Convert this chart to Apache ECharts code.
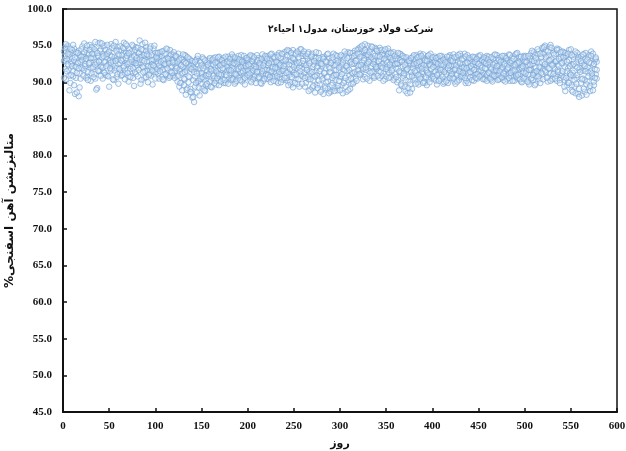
<!DOCTYPE html>
<html>
<head>
<meta charset="utf-8">
<script src="https://cdn.jsdelivr.net/npm/echarts@6/dist/echarts.min.js"></script>
<style>
html,body{margin:0;padding:0;background:#fff;}
#chart{width:626px;height:451px;}
</style>
</head>
<body>
<div id="chart"></div>
<script>
// متالیزیشن روزانه - سه نمونه در روز
var titleText = 'شرکت فولاد خوزستان، مدول۱ احیاء۲';
var xName = 'روز';
var yName = 'متالیزیشن آهن اسفنجی%\u200F';

var shiftA = [
94.2,93.1,91.8,94.8,92.5,93.6,90.9,94.1,92.8,93.3,91.5,94.6,92.2,90.6,93.9,92.7,94.3,91.2,93.5,92.0,
94.9,93.2,91.7,92.9,94.4,90.8,93.7,92.4,95.1,91.9,93.4,94.7,92.1,93.8,90.5,94.2,92.6,95.3,93.0,91.6,
94.5,92.3,93.9,91.4,95.0,92.8,93.5,90.9,94.1,92.6,93.7,95.2,91.8,93.1,94.6,92.0,93.3,90.7,94.8,92.5,
93.6,91.3,94.3,92.9,93.2,95.4,91.7,94.0,92.4,93.8,90.8,94.5,92.2,93.4,91.5,94.9,92.7,93.0,91.1,94.2,
92.6,93.9,95.7,91.9,93.5,92.1,94.4,90.6,93.2,94.8,91.6,93.7,92.3,94.1,90.9,93.0,92.5,94.6,91.4,93.3,
92.8,94.0,91.2,93.5,92.1,93.9,90.7,92.6,94.3,91.8,93.1,92.4,94.5,90.9,92.9,93.6,91.5,92.2,93.8,91.0,
92.7,93.4,90.8,92.0,93.9,91.6,92.5,89.9,93.1,91.3,92.8,90.4,93.6,91.9,89.2,92.4,90.7,93.0,88.6,91.7,
90.3,92.6,89.4,91.8,93.2,90.1,91.5,92.9,89.8,91.1,93.4,90.6,92.2,91.0,89.6,92.7,90.9,93.1,91.4,90.2,
92.5,91.2,93.3,90.5,92.0,89.7,92.8,91.6,93.5,90.8,92.3,91.0,93.0,89.9,92.6,91.4,93.2,90.3,91.9,92.7,
91.1,93.4,90.6,92.4,91.8,93.1,90.0,92.9,91.5,93.6,90.9,92.2,91.3,93.0,90.4,92.6,91.7,93.3,90.8,92.1,
91.6,93.5,90.2,92.8,91.0,93.2,90.7,92.4,91.9,93.7,90.5,92.1,91.4,93.0,89.8,92.7,91.2,93.4,90.9,92.3,
91.7,93.6,90.4,92.9,91.3,93.9,90.8,92.5,91.1,93.3,90.1,92.7,91.8,94.0,90.6,92.2,91.5,93.8,90.3,92.9,
91.6,94.2,90.2,92.8,91.0,93.5,89.7,92.4,94.4,91.3,93.1,90.5,92.6,91.9,93.9,89.4,92.3,91.1,93.6,90.8,
92.5,93.8,89.9,91.7,93.2,90.4,92.9,91.2,93.7,89.3,92.1,90.8,93.4,91.5,89.6,92.7,90.2,93.0,91.8,88.9,
92.2,90.6,93.5,89.5,91.9,92.8,90.1,93.3,88.8,91.4,92.6,89.9,93.9,91.0,90.3,92.4,89.2,93.1,91.6,90.7,
92.9,89.6,91.8,93.6,90.2,92.3,88.7,91.5,94.1,90.9,92.7,89.8,93.4,91.2,92.5,94.3,90.5,93.0,91.7,94.6,
92.4,94.8,91.3,93.5,92.0,94.2,90.7,93.8,92.6,95.0,91.5,93.2,94.5,92.2,90.9,93.9,92.8,94.7,91.8,93.4,
92.1,94.4,90.6,93.1,92.5,94.0,91.2,93.7,92.3,90.8,93.5,91.7,94.2,92.0,93.3,91.0,93.9,92.6,90.5,93.2,
91.9,93.6,90.3,92.7,91.4,93.8,89.5,92.2,90.9,93.4,88.8,91.6,92.9,90.1,93.1,89.7,92.4,91.0,93.5,90.6,
92.8,91.3,93.7,90.0,92.3,91.8,93.9,90.7,92.6,91.1,93.3,89.9,92.0,91.5,93.6,90.4,92.5,91.2,93.0,90.8,
92.7,91.4,93.5,90.2,92.1,91.7,93.2,90.6,92.9,91.0,93.4,89.8,92.4,91.6,93.1,90.3,92.6,91.3,93.7,90.9,
92.2,91.5,93.8,90.1,92.7,91.2,93.3,90.5,92.0,91.8,93.6,90.7,92.5,91.1,93.9,89.9,92.3,91.6,93.2,90.4,
92.8,91.3,93.4,90.8,92.1,91.7,93.0,90.6,92.6,91.4,93.5,90.9,92.3,91.0,93.2,90.5,92.9,91.8,93.6,90.7,
92.4,91.2,93.1,90.3,92.7,91.6,93.7,90.8,92.0,91.5,93.3,90.4,92.5,91.9,93.0,90.6,92.8,91.1,93.4,90.9,
92.3,91.7,93.8,90.2,92.6,91.4,93.5,90.7,92.1,91.0,93.9,90.5,92.9,91.8,93.2,90.1,92.4,91.3,93.6,90.8,
92.7,91.5,93.3,90.0,92.2,91.9,94.0,90.6,92.5,91.2,93.7,89.8,92.8,91.6,94.2,90.4,92.0,93.5,91.1,94.6,
92.3,95.0,91.4,93.6,90.7,92.9,94.8,91.2,93.1,90.5,92.6,94.3,91.8,93.9,90.2,92.4,94.5,91.0,93.3,90.9,
92.7,94.1,90.3,92.0,93.7,89.6,91.9,94.4,90.8,92.5,88.9,91.3,93.5,89.4,92.2,90.6,94.0,88.4,91.7,93.2,
89.9,92.6,90.5,93.8,88.7,91.8,92.9,90.1,93.4,89.3,91.5,94.2,90.7,92.3,89.6,93.0,91.1,92.8
];

var shiftB = [
92.9,94.7,90.4,93.2,95.0,91.7,93.8,89.9,92.5,94.4,90.8,93.0,88.4,94.1,91.3,92.6,88.1,93.7,90.5,94.5,
91.9,93.5,95.3,92.2,90.6,94.0,91.4,93.9,92.7,90.2,94.8,92.0,93.3,91.1,95.5,92.8,89.2,93.6,91.5,94.3,
92.1,93.4,90.5,94.9,92.7,91.0,93.8,95.1,92.4,89.4,93.0,91.6,94.7,92.9,90.3,93.5,95.5,91.9,93.1,89.8,
94.4,92.6,90.9,93.7,92.0,94.6,91.2,93.3,95.0,92.5,90.1,93.9,91.8,94.2,92.8,90.6,93.5,91.4,94.8,92.3,
90.8,94.1,92.7,93.4,90.3,95.2,92.0,93.7,91.5,94.3,92.8,90.0,93.6,91.2,94.9,92.4,89.7,93.1,92.2,94.0,
91.4,93.2,92.6,90.5,94.1,92.0,93.6,91.7,90.3,93.9,92.5,91.0,93.3,92.8,90.6,94.4,92.1,93.0,90.9,93.7,
91.5,92.2,93.5,90.1,92.9,89.4,91.8,93.3,88.9,92.1,90.5,93.7,88.3,91.6,92.8,90.0,93.2,89.1,92.3,87.9,
92.0,87.3,90.8,93.0,88.6,92.4,90.2,88.2,92.7,91.3,89.1,93.2,90.4,88.8,92.1,91.6,89.5,92.9,90.0,91.8,
89.3,92.9,90.9,91.7,93.4,90.2,91.3,92.6,89.6,93.1,91.0,92.4,90.4,93.3,91.8,89.9,92.2,91.5,93.5,90.6,
92.7,90.3,92.0,93.5,91.2,89.8,92.5,91.0,93.2,90.6,92.8,91.4,93.7,90.1,92.3,91.9,89.7,93.0,91.6,92.9,
93.1,90.8,92.5,91.3,93.6,90.4,92.2,91.8,89.9,92.9,91.5,93.3,90.6,92.4,91.1,93.8,90.2,92.6,91.7,93.4,
90.5,92.3,91.6,93.1,90.0,92.7,91.9,93.5,90.7,92.1,91.3,93.7,89.9,92.6,91.1,93.3,90.4,92.8,91.8,94.1,
92.5,90.6,93.7,91.4,94.3,90.0,92.9,91.7,89.3,93.2,91.0,94.0,92.3,89.8,93.4,92.0,94.5,90.9,92.6,93.9,
91.3,89.4,93.6,92.0,90.7,94.1,91.5,89.0,92.8,93.9,90.3,92.4,88.6,93.3,91.0,92.2,94.0,89.7,92.6,90.9,
93.4,88.4,91.2,92.9,90.0,93.8,89.1,92.1,91.4,88.7,93.0,90.6,92.3,89.3,93.7,91.7,88.9,92.7,90.2,93.5,
90.8,92.4,88.5,93.1,91.6,89.4,93.9,92.0,90.3,93.5,89.1,92.8,91.3,94.0,90.0,92.6,93.7,91.1,94.4,92.2,
93.9,91.0,94.6,92.7,90.4,93.3,95.2,91.7,94.1,92.5,93.7,90.2,92.9,94.9,91.4,93.1,90.6,92.3,94.5,91.9,
93.6,91.5,94.7,92.2,90.9,93.8,92.6,94.3,90.4,93.0,92.1,94.6,91.3,93.4,90.7,92.8,91.9,94.1,92.4,91.1,
93.2,90.0,92.5,88.9,93.9,91.3,92.8,90.6,93.3,89.4,92.0,91.7,88.5,93.0,90.8,92.6,91.4,89.1,92.3,93.7,
90.3,93.1,91.6,92.7,89.7,93.5,90.9,92.2,91.4,93.8,90.1,92.9,91.7,89.6,93.2,91.0,92.4,93.9,90.5,92.6,
90.8,93.0,91.5,92.6,89.7,93.4,91.2,92.0,90.4,93.6,91.8,92.3,90.0,93.1,91.1,92.8,89.9,93.5,91.6,92.2,
93.3,90.6,92.4,91.7,89.8,93.5,91.0,92.8,90.3,93.9,91.4,92.1,90.9,93.2,91.6,92.6,90.2,93.7,91.3,92.0,
90.7,93.1,91.9,92.5,90.2,93.4,91.1,92.7,90.5,93.6,91.6,92.2,90.9,93.0,91.3,92.8,90.4,93.3,91.0,92.4,
93.5,90.6,92.1,91.8,90.1,93.2,91.4,92.6,90.8,93.7,91.0,92.3,90.5,93.4,91.7,92.0,90.3,93.6,91.5,92.9,
90.4,93.0,91.2,92.7,90.9,93.3,91.6,92.4,90.2,93.8,91.1,92.6,90.6,93.5,91.9,92.1,90.0,93.1,91.4,92.8,
93.6,90.5,92.3,91.0,89.7,93.2,91.7,92.9,90.3,94.1,91.4,92.0,90.8,93.8,91.2,92.6,89.9,93.4,94.7,91.8,
93.9,91.6,94.4,92.1,90.1,93.7,91.9,95.1,92.5,90.4,94.0,91.3,92.8,90.9,94.6,91.7,92.2,90.3,93.5,91.2,
94.2,90.7,92.9,88.8,93.6,91.5,90.0,93.0,91.2,94.5,89.6,92.3,90.9,93.8,88.5,92.7,91.0,93.4,89.1,91.9,
93.5,88.2,91.6,92.4,90.3,94.0,89.7,92.0,91.3,93.7,88.8,92.6,90.9,93.9,90.1,91.8,93.2,90.5
];

var shiftC = [
90.6,93.6,95.2,91.5,93.9,92.3,88.9,94.6,91.0,92.2,95.1,89.6,93.4,92.1,88.6,94.0,91.9,89.3,92.8,93.5,
93.0,90.9,94.1,92.5,93.2,95.0,90.3,92.6,94.4,93.3,91.2,93.9,90.7,94.5,92.4,89.0,94.0,91.6,92.8,95.4,
90.9,95.3,92.0,93.6,91.3,94.4,92.2,93.9,90.8,94.2,91.9,92.7,93.5,90.4,95.0,91.6,92.9,94.3,91.1,93.8,
91.8,94.9,93.0,91.0,94.7,92.2,90.4,95.2,93.6,91.3,94.0,92.7,90.7,93.1,95.1,91.9,89.5,94.4,92.6,93.3,
94.7,91.7,93.1,89.8,94.5,93.0,91.4,92.9,95.4,90.7,93.8,92.2,91.0,94.6,92.1,93.7,91.6,92.3,95.0,90.5,
93.5,91.8,94.0,92.3,91.5,92.8,94.2,90.4,93.0,92.5,91.1,94.6,91.9,93.2,92.6,90.8,93.8,91.3,92.7,94.1,
90.6,93.6,91.9,92.7,90.9,93.1,89.9,92.3,91.2,93.8,89.6,91.4,92.6,89.0,93.4,90.8,92.0,88.7,91.8,92.9,
88.0,91.4,92.8,89.9,91.2,93.6,89.3,91.9,90.5,92.3,90.7,91.9,88.9,93.0,90.9,89.8,92.4,91.1,93.3,89.4,
91.6,93.1,92.4,89.9,92.7,91.5,90.6,93.4,91.1,92.3,90.1,93.0,91.9,92.6,90.3,93.5,91.0,92.8,89.8,91.7,
93.2,91.6,93.8,90.4,92.6,93.4,91.1,90.2,92.7,91.8,93.1,90.3,92.0,92.8,91.5,93.6,90.6,92.2,93.3,91.0,
92.4,91.2,93.7,90.0,92.9,91.6,93.4,90.9,92.1,91.4,93.0,90.7,92.6,89.9,93.2,91.5,92.3,90.5,93.6,91.1,
93.2,91.0,92.6,90.7,93.8,91.5,92.1,90.2,93.4,91.9,92.8,90.9,93.5,91.4,92.4,90.0,93.9,91.6,92.2,90.6,
93.0,91.3,94.4,89.6,92.4,91.8,94.0,90.7,93.3,92.1,89.9,93.8,91.1,94.2,90.4,92.7,91.5,94.5,89.8,92.9,
94.2,90.6,92.3,91.7,93.9,88.8,92.6,90.4,93.5,91.4,89.5,92.9,90.8,94.1,92.0,89.2,93.3,91.5,88.7,92.5,
90.4,93.2,91.3,89.2,92.8,90.7,93.9,88.5,91.9,92.6,89.6,93.4,90.9,88.8,92.3,91.0,93.6,89.5,92.0,88.9,
93.7,91.1,92.7,89.9,94.2,90.6,92.2,93.3,88.9,91.7,94.0,90.5,92.5,89.8,93.6,91.4,92.9,90.2,93.9,91.6,
91.1,93.5,92.3,95.0,91.8,93.0,94.4,92.0,90.5,93.7,92.8,94.1,91.3,93.4,94.8,92.5,90.8,93.6,92.1,94.3,
90.9,92.9,93.5,91.4,94.4,92.0,90.2,93.2,94.5,91.8,92.7,93.9,90.6,92.4,94.0,91.6,93.1,90.3,93.6,92.5,
90.7,92.6,94.0,91.5,93.0,89.7,92.8,93.6,91.2,92.4,90.3,93.4,91.8,89.2,92.9,88.6,93.3,90.8,91.9,92.5,
91.5,89.8,92.6,93.4,91.0,92.8,90.5,93.6,91.9,89.9,92.4,93.0,90.7,92.9,91.3,93.7,90.0,92.3,91.8,93.4,
92.1,90.5,92.8,93.3,91.0,92.5,90.2,93.6,91.7,92.4,90.8,93.1,91.4,92.7,90.1,93.5,91.9,92.3,90.6,93.0,
91.1,92.9,90.5,93.4,91.8,92.3,90.1,93.7,91.5,92.6,90.8,93.1,91.3,92.0,90.6,93.5,91.9,92.7,89.9,93.3,
91.4,92.2,90.3,93.5,91.7,92.8,90.6,93.2,91.1,92.5,90.8,93.7,91.6,92.0,90.4,93.4,91.9,92.6,90.2,93.1,
91.3,92.7,90.5,93.4,91.0,92.4,90.9,93.8,91.7,92.2,90.3,93.0,91.5,92.8,90.7,93.6,91.2,92.5,90.1,93.3,
91.8,92.0,90.6,93.7,91.3,92.9,90.2,93.2,91.6,92.4,90.8,94.0,91.0,92.7,90.4,93.5,91.9,92.2,90.5,93.4,
91.2,92.8,90.1,93.6,91.7,92.4,90.5,94.3,91.0,92.9,89.6,93.3,91.5,94.5,90.8,92.1,93.9,91.3,92.7,90.4,
94.8,92.5,93.4,90.6,94.2,91.9,93.0,90.2,94.7,92.3,91.1,93.8,90.5,92.9,94.4,91.4,93.2,89.9,94.1,92.6,
91.5,93.4,89.4,94.0,90.6,92.8,93.9,89.9,92.2,91.0,93.7,88.7,92.5,90.3,94.2,89.8,92.0,93.1,88.0,91.4,
92.9,90.4,93.8,89.1,92.2,91.5,88.3,93.1,90.8,92.7,89.5,93.6,91.2,88.9,92.5,90.6,93.4,91.7
];

var xMin = 0, xMax = 600, xStep = 50;
var yMin = 45, yMax = 100, yStep = 5;

function toPoints(arr) {
  var out = [];
  for (var i = 0; i < arr.length; i++) out.push([i + 1, arr[i]]);
  return out;
}

var myChart = echarts.init(document.getElementById('chart'));
var numFont = {fontFamily: 'Liberation Serif', fontWeight: 'bold', fontSize: 11, color: '#111'};
var dotStyle = {
  color: 'rgba(225,236,248,0.45)',
  borderColor: 'rgba(115,162,216,0.85)',
  borderWidth: 1
};

var option = {
  animation: false,
  backgroundColor: '#fff',
  title: {
    text: titleText,
    left: 263,
    top: 19,
    textStyle: {fontFamily: 'DejaVu Sans Condensed, DejaVu Sans', fontWeight: 'bold', fontSize: 10, color: '#111'}
  },
  grid: {
    left: 63, right: 9, top: 9, bottom: 39,
    outerBoundsMode: 'none',
    show: true, borderColor: '#111', borderWidth: 1.5
  },
  xAxis: {
    type: 'value', min: xMin, max: xMax, interval: xStep,
    name: xName, nameLocation: 'middle', nameGap: 27,
    nameTextStyle: {fontFamily: 'DejaVu Sans', fontWeight: 'bold', fontSize: 11, color: '#111'},
    axisLine: {lineStyle: {color: '#111', width: 2}},
    axisTick: {inside: true, length: 4, lineStyle: {color: '#111', width: 1.5}},
    axisLabel: Object.assign({margin: 9}, numFont),
    splitLine: {show: false}
  },
  yAxis: {
    type: 'value', min: yMin, max: yMax, interval: yStep,
    name: yName, nameLocation: 'middle', nameGap: 41, nameRotate: 90,
    nameTextStyle: {fontFamily: 'DejaVu Sans', fontWeight: 'bold', fontSize: 12, color: '#111'},
    axisLine: {lineStyle: {color: '#111', width: 2}},
    axisTick: {inside: true, length: 4, lineStyle: {color: '#111', width: 1.5}},
    axisLabel: Object.assign({margin: 11, formatter: function (v) { return v.toFixed(1); }}, numFont),
    splitLine: {show: false}
  },
  series: [
    {type: 'scatter', name: 'A', data: toPoints(shiftA), symbol: 'circle', symbolSize: 5.5, itemStyle: dotStyle},
    {type: 'scatter', name: 'B', data: toPoints(shiftB), symbol: 'circle', symbolSize: 5.5, itemStyle: dotStyle},
    {type: 'scatter', name: 'C', data: toPoints(shiftC), symbol: 'circle', symbolSize: 5.5, itemStyle: dotStyle}
  ]
};

myChart.setOption(option);
window.addEventListener('resize', function () { myChart.resize(); });
</script>
</body>
</html>
